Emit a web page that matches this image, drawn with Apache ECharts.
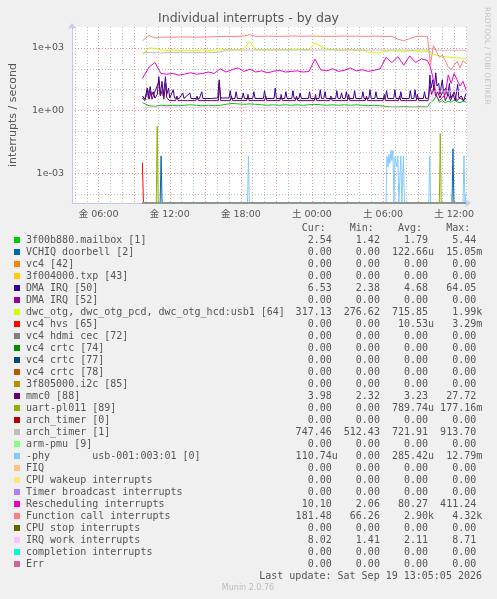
<!DOCTYPE html>
<html><head><meta charset="utf-8">
<script src="https://cdn.jsdelivr.net/npm/echarts@6/dist/echarts.min.js"></script>
<style>html,body{margin:0;padding:0;background:#f0f0f0}#c{width:497px;height:599px}</style>
</head><body><div id="c"></div>
<script>
// ---------- data (hours since Friday 00:00) ----------
const times = [9.7,10.25,10.75,11.25,11.75,12.25,12.75,13.25,13.75,14.25,14.75,15.25,15.75,16.25,16.75,17.25,17.75,18.25,18.75,19.25,19.75,20.25,20.75,21.25,21.75,22.25,22.75,23.25,23.75,24.25,24.75,25.25,25.75,26.25,26.75,27.25,27.75,28.25,28.75,29.25,29.75,30.25,30.75,31.25,31.75,32.25,32.75,33.25,33.75,34.0,34.25,34.5,34.75,35.0,35.25,35.5,35.75,36.0,36.25,36.5,36.75,37.0];

const funcCall = [2200,3900,3000, 3200,3300,3250,3300,3350,3300,3250,3300,3350,3400, 3500,3600,3500,3600,3700, 4300,
  3550,3600,3650,3600,3550,3600,3700,3650,3600,3700,3650,3600,3550,3600,3650,3700,3600,3650,3600,3550,3650,3600,
  3500,3600,2600,2200,2800,3500,3600,3600,
  150,1300,700,350,450,250,120,90,150,220,110,250,181.48];
const archTimer1 = [590,600,590,580,590,600,590,585,590,600,595,590,600, 640,
  790,800,790,780,790,800,790,785,790,800,790,780,790,800,790,785,790,800,790,780,790,800,790,785,790,800,790,780,790,800,790,785,790,800,790,
  913,880,800,780,770,760,780,770,760,770,780,760,747.46];
const dwcOtg = [450,1000,950,800,750,800,750,780,720,760,800,740,780,800,850,800,820,900,1990,820,
  800,850,780,820,800,850,900,800,820, 1700,1200,900, 850,800,820,800,780,800,
  620,580,600,700,750,700,650,750,700,650,680,
  600,500,450,420,400,380,360,350,340,330,330,320,317.13];
const resched = [35,120,200,60, 55,60,50,55,65,55,60,70,60, 100,70,90,110,75,95,
  70,80,65,75,85,70,75,80,70,75, 290,90, 80,100,75,85,110,80,90,75,85,100,
  350,200,380,150,411,200,300,250,
  120,30,5,3,4,6,50,20,60,30,15,25,10.1];
const mailbox = [2.4,1.7,1.6,1.8,1.7,1.8,1.7,1.8,1.9,1.8,1.7,1.8,1.7, 1.8,2.0,2.2,2.1,2.0,2.1,
  2.0,1.9,1.8,1.9,1.8,1.9,1.8,1.9,1.8,1.9,2.0,1.9,1.8,1.9,1.8,1.9,1.8,1.9,1.8,1.7,1.8,1.7,
  1.6,1.5,1.5,1.6,1.5,1.5,1.6,1.5,
  2.5,3.0,5.4,2.5,3.0,2.4,2.8,2.5,3.2,2.6,2.4,2.8,2.54];
const irqWork = [1.45,1.43,1.46,1.44,1.45,1.42,1.46,1.44,1.45,1.43,1.46,1.44,1.45,1.42,1.46,1.44,1.45,1.43,1.46,1.44,
  1.45,1.42,1.46,1.44,1.45,1.43,1.46,1.44,1.45,1.42,1.46,1.44,1.45,1.43,1.46,1.44,1.45,1.42,1.46,1.44,
  1.45,1.43,1.46,1.44,1.45,1.42,1.46,1.44,1.45,1.45,
  8.5,8.6,8.7,8.5,8.6,8.5,8.4,8.6,8.5,8.3,8.2,8.02];

// sparse series: [hour, value]
const dma50 = [[9.7,5],[9.9,3.5],[10.1,12],[10.2,4],[10.35,14],[10.45,5],[10.6,8],[10.75,4],[10.95,6],[11.08,42],[11.2,6],[11.35,25],[11.45,5],[11.64,42],[11.75,6],[11.9,12],[12.0,4],[12.3,10],[12.4,4],[12.8,3.8],[13.1,7],[13.2,3.8],[13.7,7],[13.8,3.8],[14.5,3.8],[14.7,8],[14.8,3.8],[15.5,3.8],[16.05,4],[16.17,30],[16.3,4],[17.0,4],[17.1,9],[17.2,3.8],[17.5,3.8],[17.6,8],[17.7,3.8],[18.1,3.8],[18.2,7],[18.3,3.8],[19.0,3.8],[19.1,8],[19.2,3.8],[19.9,3.8],[20.0,9],[20.1,3.8],[20.8,3.8],[20.9,12],[21.0,3.8],[21.7,3.8],[21.8,8],[21.9,3.8],[22.3,3.8],[22.4,9],[22.5,3.8],[22.9,3.8],[23.0,7],[23.1,3.8],[23.7,3.8],[23.8,8],[23.9,3.8],[24.6,3.8],[24.7,10],[24.8,3.8],[25.0,3.8],[25.1,8],[25.2,3.8],[26.0,3.8],[26.1,9],[26.2,3.8],[26.4,3.8],[26.5,7],[26.6,3.8],[26.8,3.8],[26.9,8],[27.0,3.8],[27.5,3.8],[27.6,9],[27.7,3.8],[28.2,3.8],[28.3,8],[28.4,3.8],[28.8,3.8],[28.9,10],[29.0,3.8],[29.3,3.8],[29.4,8],[29.5,3.8],[30.2,3.8],[30.3,9],[30.4,3.8],[30.9,3.8],[31.0,10],[31.1,3.8],[31.4,3.8],[31.5,8],[31.6,3.8],[32.2,3.8],[32.3,9],[32.4,3.8],[32.6,3.8],[32.7,10],[32.8,3.8],[33.4,3.8],[33.5,8],[33.6,3.8],[33.85,4],[33.95,50],[34.05,12],[34.2,30],[34.3,8],[34.45,64],[34.55,15],[34.7,20],[34.8,6],[35.0,30],[35.1,8],[35.3,12],[35.45,5],[35.6,20],[35.7,4],[35.9,6],[36.1,3],[36.3,18],[36.4,4],[36.6,5],[36.8,3],[37.0,6.53]];
const mmc0 = [[9.7,4],[9.9,3],[10.15,10],[10.25,3.5],[10.4,8],[10.5,3.5],[11.1,27],[11.2,5],[11.4,10],[11.5,3.5],[11.65,20],[11.75,4],[12.0,3],[12.5,3],[12.6,5],[12.7,3],[13.5,3],[14.2,3],[14.3,5],[14.4,3],[15.5,3],[16.1,3],[16.17,20],[16.3,3],[17.1,3],[17.2,5],[17.3,3],[18.5,3],[18.6,6],[18.7,3],[20.0,3],[20.1,5],[20.2,3],[21.3,3],[21.4,6],[21.5,3],[22.6,3],[22.7,5],[22.8,3],[24.2,3],[24.3,6],[24.4,3],[25.5,3],[25.6,5],[25.7,3],[27.0,3],[27.1,6],[27.2,3],[28.5,3],[28.6,5],[28.7,3],[30.0,3],[30.1,6],[30.2,3],[31.3,3],[31.4,5],[31.5,3],[32.8,3],[32.9,6],[33.0,3],[33.8,3],[33.95,15],[34.1,6],[34.3,12],[34.45,5],[34.6,8],[34.8,4],[35.1,10],[35.25,3],[35.5,6],[35.7,3],[36.0,8],[36.2,3],[36.5,4],[36.8,3],[37.0,3.98]];
const vc4hvs = [[9.69,0.00329],[9.78,0],[37.0,0]];
const vchiq = [[9.7,0],[11.19,0],[11.27,0.0068],[11.35,0],[35.82,0],[35.9,0.01505],[35.98,0],[37.0,0]];
const uart = [[9.7,0],[10.86,0],[10.94,0.17716],[11.02,0],[34.75,0],[34.83,0.08],[34.91,0],[37.0,0]];
const phy = [[9.7,0],[18.56,0],[18.64,0.0067],[18.72,0],[30.25,0],[30.33,0.0065],[30.42,0.002],[30.5,0.008],[30.58,0.003],
  [30.67,0.0128],[30.75,0.004],[30.83,0.0125],[30.92,0],[31.0,0.006],[31.08,0.0065],[31.17,0.002],[31.25,0.0068],[31.33,0],
  [31.5,0.0068],[31.58,0],[31.72,0.0068],[31.8,0],[33.86,0],[33.94,0.0068],[34.02,0],[36.75,0],[36.83,0.0068],[36.91,0],[37.0,0.00011074]];
const zeroSeries = [[9.7,0],[37.0,0]];

const legendNames = ['3f00b880.mailbox [1]','VCHIQ doorbell [2]','vc4 [42]','3f004000.txp [43]','DMA IRQ [50]','DMA IRQ [52]',
  'dwc_otg, dwc_otg_pcd, dwc_otg_hcd:usb1 [64]','vc4 hvs [65]','vc4 hdmi cec [72]','vc4 crtc [74]','vc4 crtc [77]','vc4 crtc [78]',
  '3f805000.i2c [85]','mmc0 [88]','uart-pl011 [89]','arch_timer [0]','arch_timer [1]','arm-pmu [9]','-phy       usb-001:003:01 [0]',
  'FIQ','CPU wakeup interrupts','Timer broadcast interrupts','Rescheduling interrupts','Function call interrupts','CPU stop interrupts',
  'IRQ work interrupts','completion interrupts','Err'];
const legendColors = ['#00CC00','#0066B3','#FF8000','#FFCC00','#330099','#990099','#CCFF00','#FF0000','#808080','#008F00','#00487D','#B35A00',
  '#B38F00','#6B006B','#8FB300','#B30000','#BEBEBE','#80FF80','#80C9FF','#FFC080','#FFE680','#AA80FF','#EE00CC','#FF8080','#666600',
  '#FFBFFF','#00FFCC','#CC6699'];
const curVals = ['2.54','0.00','0.00','0.00','6.53','0.00','317.13','0.00','0.00','0.00','0.00','0.00','0.00','3.98','0.00','0.00','747.46','0.00','110.74u','0.00','0.00','0.00','10.10','181.48','0.00','8.02','0.00','0.00'];
const minVals = ['1.42','0.00','0.00','0.00','2.38','0.00','276.62','0.00','0.00','0.00','0.00','0.00','0.00','2.32','0.00','0.00','512.43','0.00','0.00','0.00','0.00','0.00','2.06','66.26','0.00','1.41','0.00','0.00'];
const avgVals = ['1.79','122.66u','0.00','0.00','4.68','0.00','715.85','10.53u','0.00','0.00','0.00','0.00','0.00','3.23','789.74u','0.00','721.91','0.00','285.42u','0.00','0.00','0.00','80.27','2.90k','0.00','2.11','0.00','0.00'];
const maxVals = ['5.44','15.05m','0.00','0.00','64.05','0.00','1.99k','3.29m','0.00','0.00','0.00','0.00','0.00','27.72','177.16m','0.00','913.70','0.00','12.79m','0.00','0.00','0.00','411.24','4.32k','0.00','8.71','0.00','0.00'];

const xLabelVals = [6,12,18,24,30,36];
const xLabels = ['金 06:00','金 12:00','金 18:00','土 00:00','土 06:00','土 12:00'];
const xMajorGrid = [6,9,12,15,18,21,24,27,30,33,36];
const xMinorGrid = [4,5,7,8,10,11,13,14,16,17,19,20,22,23,25,26,28,29,31,32,34,35,37];
const yLabelExps = [-3,0,3];
const yLabels = ['1e-03','1e+00','1e+03'];
const yMajorGrid = [1e-3,1,1e3];
const yMinorGrid = [1e-4,1e-2,1e-1,10,100];

const titleText = 'Individual interrupts - by day';
const yName = 'interrupts / second';
const lastUpdate = 'Last update: Sat Sep 19 13:05:05 2026';

// ---------- build ----------
const X_MIN = 3.75, X_MAX = 37.0847;
const Y_MIN = Math.pow(10, -4.42), Y_MAX = 1e4;
const floorV = v => (v > 0 ? v : Y_MIN);

const gridSeries = {0: mailbox, 6: dwcOtg, 16: archTimer1, 22: resched, 23: funcCall, 25: irqWork};
const pairSeries = {1: vchiq, 4: dma50, 7: vc4hvs, 13: mmc0, 14: uart, 18: phy};

const series = legendNames.map((n, i) => {
  let data;
  if (gridSeries[i]) data = gridSeries[i].map((v, k) => [times[k], floorV(v)]);
  else if (pairSeries[i]) data = pairSeries[i].map(p => [p[0], floorV(p[1])]);
  else data = zeroSeries.map(p => [p[0], floorV(p[1])]);
  return {name: n, type: 'line', data, showSymbol: false, symbol: 'none', silent: true,
    lineStyle: {color: legendColors[i], width: 1}, itemStyle: {color: legendColors[i]}, z: 2 + i * 0.01, clip: true};
});

const MONO = "'DejaVu Sans Mono', monospace";
const SANS = "'DejaVu Sans', 'Noto Sans CJK JP', sans-serif";
const TXT = '#555555';
function field(s) {
  const last = s[s.length - 1];
  let num = s, suf = ' ';
  if (/[a-z]/i.test(last)) { num = s.slice(0, -1); suf = last; }
  return num.padStart(7, ' ') + suf;
}
const graphics = [];
graphics.push({type: 'text', x: 248.5, y: 19, style: {text: titleText, font: '12.5px ' + SANS, fill: TXT, textAlign: 'center', textVerticalAlign: 'middle'}});
graphics.push({type: 'text', x: 487, y: 56, rotation: -Math.PI / 2, style: {text: 'RRDTOOL / TOBI OETIKER', font: '7.6px ' + SANS, fill: '#c4c4c4', textAlign: 'center', textVerticalAlign: 'middle'}});
const NUM_X = 289.6;
graphics.push({type: 'text', x: NUM_X, y: 228, style: {text: '  Cur:    Min:    Avg:    Max:  ', font: '10px ' + MONO, fill: TXT, textVerticalAlign: 'middle'}});
legendNames.forEach((n, i) => {
  const y = 240 + 12 * i;
  graphics.push({type: 'rect', shape: {x: 14, y: y - 3, width: 6, height: 6}, style: {fill: legendColors[i]}});
  graphics.push({type: 'text', x: 26, y: y, style: {text: n, font: '10px ' + MONO, fill: TXT, textVerticalAlign: 'middle'}});
  graphics.push({type: 'text', x: NUM_X, y: y, style: {text: field(curVals[i]) + field(minVals[i]) + field(avgVals[i]) + field(maxVals[i]), font: '10px ' + MONO, fill: TXT, textVerticalAlign: 'middle'}});
});
graphics.push({type: 'text', x: 482, y: 576, style: {text: lastUpdate, font: '10px ' + MONO, fill: TXT, textAlign: 'right', textVerticalAlign: 'middle'}});
graphics.push({type: 'text', x: 248, y: 588, style: {text: 'Munin 2.0.76', font: '8px ' + SANS, fill: '#bbbbbb', textAlign: 'center', textVerticalAlign: 'middle'}});

const AXIS_C = '#c4c8ee';
const RED = 'rgba(225,110,110,0.75)';
const GRAY = 'rgba(170,170,170,0.75)';

const option = {
  backgroundColor: '#f0f0f0',
  animation: false,
  grid: {left: 67, top: 27, width: 400, height: 176, show: true, backgroundColor: '#ffffff', borderWidth: 0},
  xAxis: [
    {type: 'value', min: X_MIN, max: X_MAX, position: 'bottom',
      axisLine: {show: true, onZero: false, symbol: ['none', 'arrow'], symbolSize: [6, 6], symbolOffset: [0, 4], lineStyle: {color: AXIS_C, width: 1}},
      axisTick: {show: false, customValues: xMajorGrid},
      splitLine: {show: true, lineStyle: {color: RED, width: 1, type: [1, 2]}},
      axisLabel: {customValues: xLabelVals, margin: 7, fontSize: 9.5, fontFamily: SANS, color: TXT,
        formatter: v => { const k = xLabelVals.findIndex(t => Math.abs(t - v) < 1e-6); return k >= 0 ? xLabels[k] : ''; }}},
    {type: 'value', min: X_MIN, max: X_MAX, position: 'bottom',
      axisLine: {show: false}, axisLabel: {show: false},
      axisTick: {show: false, customValues: xMinorGrid},
      splitLine: {show: true, lineStyle: {color: GRAY, width: 1, type: [1, 2]}}}
  ],
  yAxis: [
    {type: 'log', logBase: 10, min: Y_MIN, max: Y_MAX, position: 'left',
      axisLine: {show: true, symbol: ['none', 'arrow'], symbolSize: [6, 6], symbolOffset: [0, 4], lineStyle: {color: AXIS_C, width: 1}},
      axisTick: {show: false, customValues: yMajorGrid},
      splitLine: {show: true, lineStyle: {color: RED, width: 1, type: [1, 2]}},
      axisLabel: {customValues: yMajorGrid, margin: 8, fontSize: 9.5, fontFamily: SANS, color: TXT,
        formatter: v => { const k = yLabelExps.indexOf(Math.round(Math.log10(v))); return k >= 0 ? yLabels[k] : ''; }},
      name: yName, nameLocation: 'middle', nameGap: 53, nameRotate: 90,
      nameTextStyle: {fontSize: 11, fontFamily: SANS, color: TXT}},
    {type: 'log', logBase: 10, min: Y_MIN, max: Y_MAX, position: 'left',
      axisLine: {show: false}, axisLabel: {show: false},
      axisTick: {show: false, customValues: yMinorGrid},
      splitLine: {show: true, lineStyle: {color: GRAY, width: 1, type: [1, 2]}}}
  ],
  series: series,
  graphic: graphics
};
const chart = echarts.init(document.getElementById('c'), null, {renderer: 'canvas'});
chart.setOption(option);
</script></body></html>
